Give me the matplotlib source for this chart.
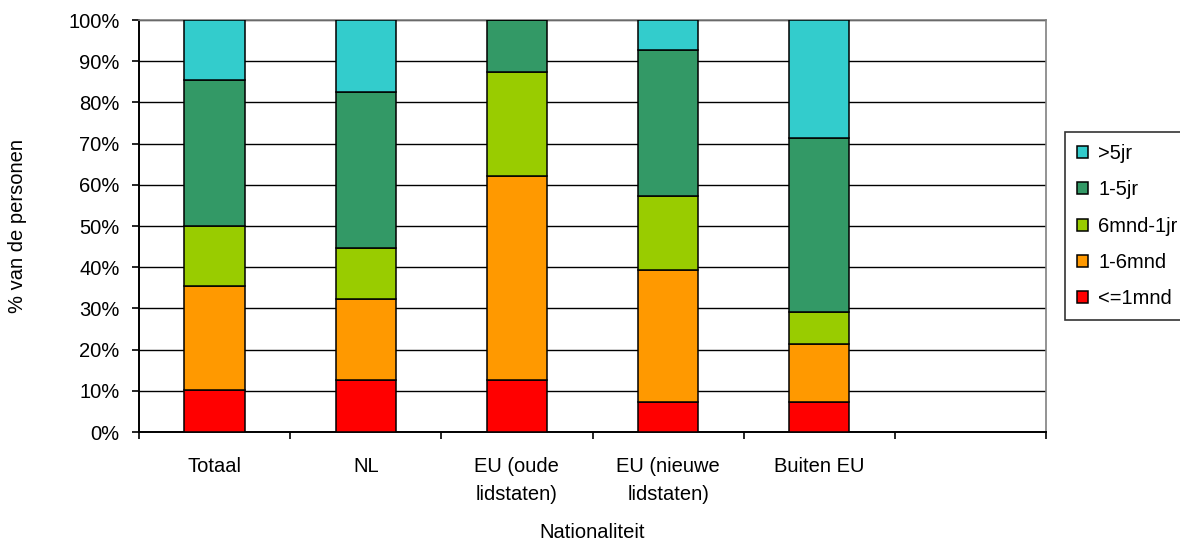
import matplotlib

matplotlib.use("Agg")
import matplotlib.pyplot as plt
import numpy as np
from matplotlib.ticker import FixedLocator, PercentFormatter

plt.rcParams["font.family"] = ["Liberation Sans", "DejaVu Sans"]

# ── Data (percent of persons per duration class) ───────────────────────────
categories = ["Totaal", "NL", "EU (oude\nlidstaten)", "EU (nieuwe\nlidstaten)", "Buiten EU"]
series_names = ["<=1mnd", "1-6mnd", "6mnd-1jr", "1-5jr", ">5jr"]
upto_1mnd = [10.3, 12.6, 12.6, 7.3, 7.3]
m1_6 = [25.1, 19.8, 49.5, 31.9, 14.0]
m6_1jr = [14.5, 12.2, 25.3, 18.0, 7.8]
jr1_5 = [35.5, 37.9, 12.6, 35.4, 42.3]
over_5jr = [14.6, 17.5, 0.0, 7.4, 28.6]
colors = ["#FF0000", "#FF9900", "#99CC00", "#339966", "#33CCCC"]
n_slots = 6  # Excel left an empty sixth category slot
FS = 14.5

# ── Chart ──────────────────────────────────────────────────────────────────
fig = plt.figure(figsize=(11.8, 5.42), dpi=100)
ax = fig.add_axes([139 / 1180, 1 - 432 / 542, 907 / 1180, 412 / 542])

x = np.arange(len(categories))
bottom = np.zeros(len(categories))
for name, vals, col in zip(series_names,
                           [upto_1mnd, m1_6, m6_1jr, jr1_5, over_5jr], colors):
    vals = np.array(vals)
    ax.bar(x, vals, 0.4, bottom=bottom, color=col, edgecolor="black",
           linewidth=1.1, label=name, zorder=3)
    bottom += vals

ax.set_xlim(-0.5, n_slots - 0.5)
ax.set_ylim(0, 100)
ax.set_yticks(np.arange(0, 101, 10))
ax.yaxis.set_major_formatter(PercentFormatter(decimals=0))
ax.yaxis.grid(True, color="black", linewidth=1.0, zorder=0)

ax.set_xticks(np.arange(n_slots))
ax.set_xticklabels(categories + [""], linespacing=1.6)
ax.xaxis.set_minor_locator(FixedLocator(np.arange(-0.5, n_slots, 1.0)))
ax.tick_params(axis="x", which="major", length=0, pad=18, labelsize=FS)
ax.tick_params(axis="x", which="minor", length=5, width=1.2, direction="out")
ax.tick_params(axis="y", length=5, width=1.2, direction="out", pad=9,
               labelsize=FS)
for lbl in ax.get_xticklabels():
    lbl.set_verticalalignment("top")

for side in ("left", "bottom"):
    ax.spines[side].set_color("black")
    ax.spines[side].set_linewidth(1.4)
for side in ("top", "right"):
    ax.spines[side].set_color("#808080")
    ax.spines[side].set_linewidth(1.2)

ax.set_xlabel("Nationaliteit", fontsize=FS, va="center")
ax.xaxis.set_label_coords((592 - 139) / 907, (432 - 533) / 412)
ax.set_ylabel("% van de personen", fontsize=FS, va="center")
ax.yaxis.set_label_coords((18 - 139) / 907, 0.5)

handles, labels = ax.get_legend_handles_labels()
leg = fig.legend(handles[::-1], labels[::-1], loc="upper left",
                 bbox_to_anchor=(1065 / 1180, 1 - 132 / 542),
                 fontsize=FS, frameon=True, fancybox=False,
                 edgecolor="black", handlelength=0.55, handleheight=0.55,
                 handletextpad=0.5, labelspacing=0.86, borderpad=0.6,
                 borderaxespad=0)
leg.get_frame().set_linewidth(1.2)

fig.savefig("out.png", dpi=100)
plt.close(fig)
